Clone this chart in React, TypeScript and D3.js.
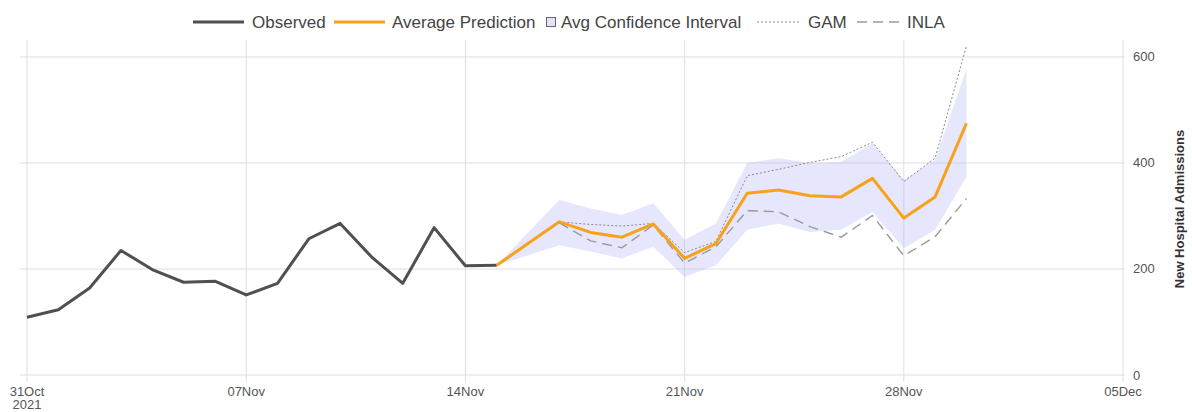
import * as d3 from "d3";

const obsDates = [
  "2021-10-31", "2021-11-01", "2021-11-02", "2021-11-03", "2021-11-04", "2021-11-05",
  "2021-11-06", "2021-11-07", "2021-11-08", "2021-11-09", "2021-11-10", "2021-11-11",
  "2021-11-12", "2021-11-13", "2021-11-14", "2021-11-15",
];
const observed = [109, 123, 164, 235, 199, 175, 177, 151, 173, 257, 286, 223, 173, 278, 206, 207];

const predDates = [
  "2021-11-15", "2021-11-17", "2021-11-18", "2021-11-19", "2021-11-20", "2021-11-21",
  "2021-11-22", "2021-11-23", "2021-11-24", "2021-11-25", "2021-11-26", "2021-11-27",
  "2021-11-28", "2021-11-29", "2021-11-30",
];
const avgPrediction = [207, 289, 269, 260, 285, 220, 248, 343, 349, 338, 336, 371, 296, 336, 475];
const ciLower = [207, 245, 233, 220, 242, 185, 207, 274, 286, 270, 274, 308, 239, 274, 374];
const ciUpper = [207, 330, 314, 302, 324, 255, 286, 400, 409, 400, 402, 437, 368, 406, 577];

const modelDates = predDates.slice(1);
const gam = [289, 284, 281, 286, 231, 252, 376, 388, 401, 412, 439, 365, 409, 621];
const inla = [287, 253, 240, 283, 211, 242, 310, 308, 280, 260, 301, 225, 261, 333];

const xTicks = ["2021-10-31", "2021-11-07", "2021-11-14", "2021-11-21", "2021-11-28", "2021-12-05"];
const yTicks = [0, 200, 400, 600];

const parse = d3.utcParse("%Y-%m-%d");
const fmt = d3.utcFormat("%d%b");

const W = 1192;
const H = 412;
const font = "'Liberation Sans', Arial, sans-serif";

const x = d3.scaleUtc().domain([parse("2021-10-31")!, parse("2021-12-05")!]).range([27, 1123]);
const y = d3.scaleLinear().domain([0, 632]).range([375, 40]);

type P = { d: Date; v: number };
const zip = (dates: string[], vals: number[]): P[] => dates.map((s, i) => ({ d: parse(s)!, v: vals[i] }));

const line = d3.line<P>().x((p) => x(p.d)).y((p) => y(p.v));
const band = d3
  .area<{ d: Date; lo: number; hi: number }>()
  .x((p) => x(p.d))
  .y0((p) => y(p.lo))
  .y1((p) => y(p.hi));

const bandData = predDates.map((s, i) => ({ d: parse(s)!, lo: ciLower[i], hi: ciUpper[i] }));

const COL_OBS = "#505050";
const COL_AVG = "#f7a21b";
const COL_GAM = "#8a8a8a";
const COL_INLA = "#9a9a9a";

export default function App() {
  const legendY = 22;
  return (
    <svg width={W} height={H} style={{ position: "absolute", left: 0, top: 0, background: "#fff" }} fontFamily={font}>
      {/* grid */}
      {xTicks.map((t) => (
        <line key={t} x1={x(parse(t)!)} x2={x(parse(t)!)} y1={40} y2={382} stroke="#dedede" strokeWidth={1} />
      ))}
      {yTicks.map((t) => (
        <line key={t} x1={20} x2={1125} y1={y(t)} y2={y(t)} stroke="#dedede" strokeWidth={1} />
      ))}

      {/* confidence band */}
      <path d={band(bandData)!} fill="rgb(178,178,245)" fillOpacity={0.33} stroke="none" />

      <path d={line(zip(modelDates, gam))!} fill="none" stroke={COL_GAM} strokeWidth={1} strokeDasharray="2,2" />
      <path d={line(zip(modelDates, inla))!} fill="none" stroke={COL_INLA} strokeWidth={1.4} strokeDasharray="10,6" />
      <path d={line(zip(obsDates, observed))!} fill="none" stroke={COL_OBS} strokeWidth={3} strokeLinejoin="round" />
      <path d={line(zip(predDates, avgPrediction))!} fill="none" stroke={COL_AVG} strokeWidth={3} strokeLinejoin="round" />

      {/* x labels */}
      {xTicks.map((t, i) => (
        <text key={t} x={x(parse(t)!)} y={396} fontSize={13} fill="#555" textAnchor="middle">
          {fmt(parse(t)!)}
          {i === 0 && (
            <tspan x={x(parse(t)!)} dy={13}>
              2021
            </tspan>
          )}
        </text>
      ))}

      {/* y labels (right) */}
      {yTicks.map((t) => (
        <text key={t} x={1133} y={y(t) + 4.5} fontSize={13} fill="#555">
          {t}
        </text>
      ))}
      <text
        transform="translate(1184,209) rotate(-90)"
        textAnchor="middle"
        fontSize={13}
        fontWeight="bold"
        fill="#333"
      >
        New Hospital Admissions
      </text>

      {/* legend */}
      <g fontSize={17} fill="#444">
        <line x1={193} x2={244} y1={legendY} y2={legendY} stroke={COL_OBS} strokeWidth={3} />
        <text x={252} y={legendY + 6}>Observed</text>
        <line x1={334} x2={385} y1={legendY} y2={legendY} stroke={COL_AVG} strokeWidth={3} />
        <text x={392} y={legendY + 6}>Average Prediction</text>
        <rect x={546.5} y={legendY - 4.5} width={9} height={9} fill="rgb(225,225,250)" stroke="#666" strokeWidth={1} />
        <text x={561} y={legendY + 6}>Avg Confidence Interval</text>
        <line x1={757} x2={801} y1={legendY} y2={legendY} stroke={COL_GAM} strokeWidth={1} strokeDasharray="2,2" />
        <text x={808} y={legendY + 6}>GAM</text>
        <line x1={857} x2={899} y1={legendY} y2={legendY} stroke={COL_INLA} strokeWidth={1.4} strokeDasharray="10,6" />
        <text x={907} y={legendY + 6}>INLA</text>
      </g>
    </svg>
  );
}
